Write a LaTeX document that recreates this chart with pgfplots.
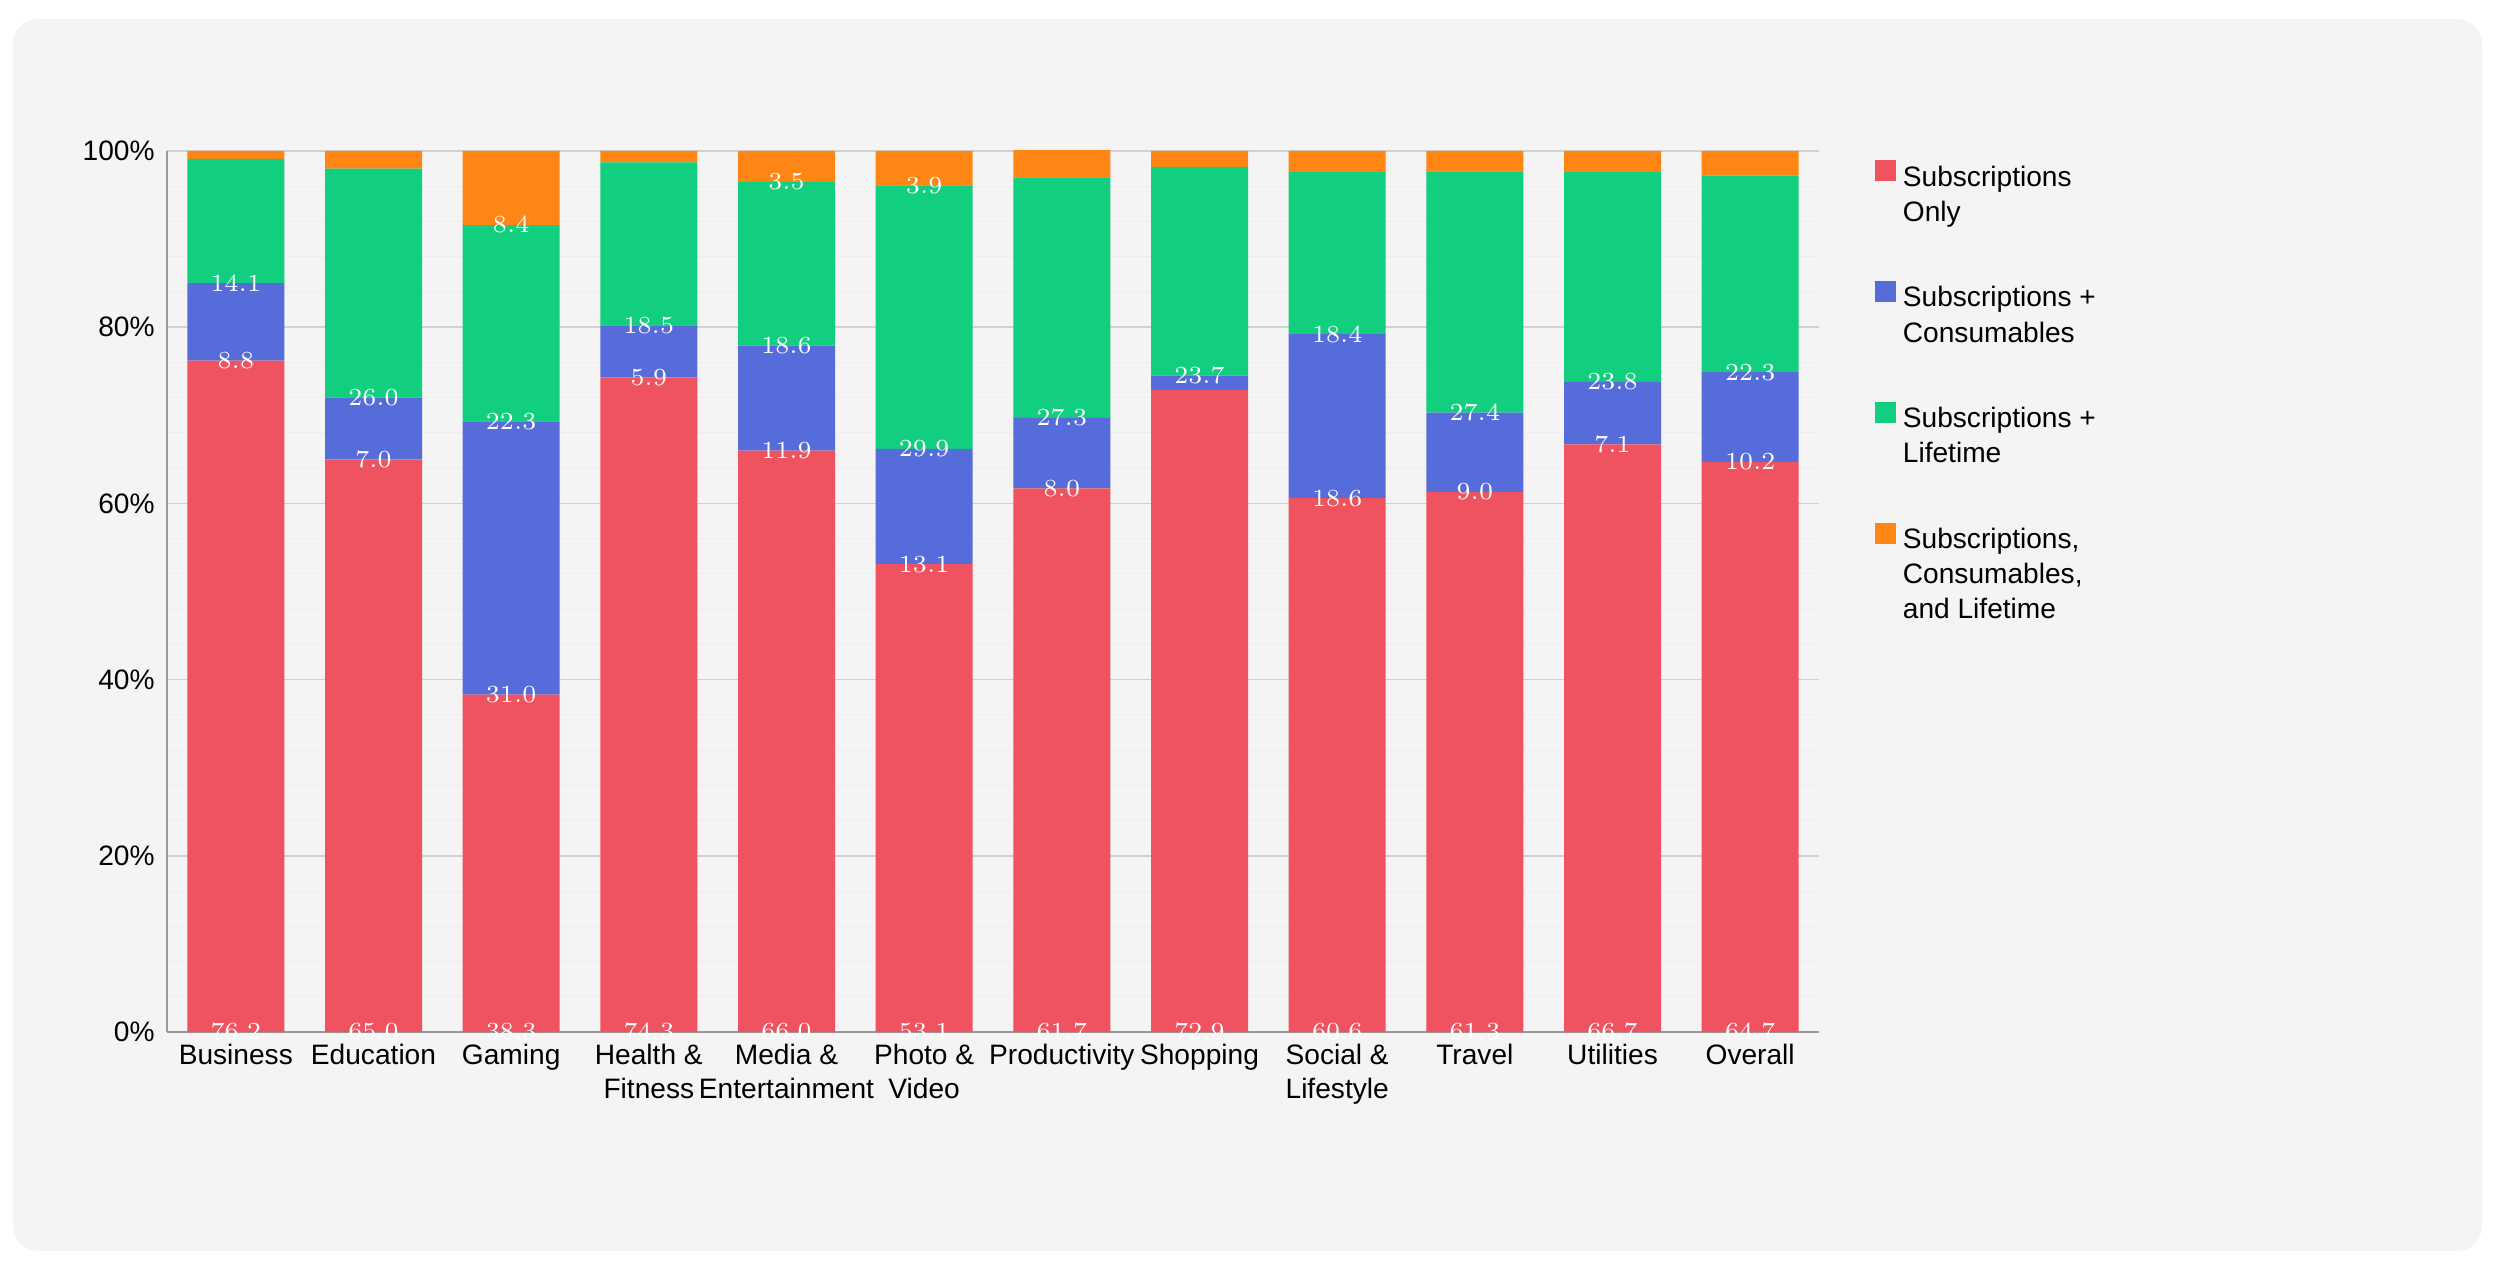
\documentclass[border=0pt]{standalone}
\usepackage{pgfplots}
\pgfplotsset{compat=1.18}
\usepackage{pgfplotstable}
\usepackage{fontspec}
\setmainfont{Liberation Sans}
\definecolor{cRed}{HTML}{EF5360}
\definecolor{cBlue}{HTML}{566CDB}
\definecolor{cGreen}{HTML}{12CF80}
\definecolor{cOrange}{HTML}{FF8514}
\definecolor{panel}{HTML}{F4F4F4}
\pgfplotstableread{
x v
0 76.2
1 65.0
2 38.3
3 74.3
4 66.0
5 53.1
6 61.7
7 72.9
8 60.6
9 61.3
10 66.7
11 64.7
}\tA
\pgfplotstableread{
x v
0 8.8
1 7.0
2 31.0
3 5.9
4 11.9
5 13.1
6 8.0
7 1.6
8 18.6
9 9.0
10 7.1
11 10.2
}\tB
\pgfplotstableread{
x v
0 14.1
1 26.0
2 22.3
3 18.5
4 18.6
5 29.9
6 27.3
7 23.7
8 18.4
9 27.4
10 23.8
11 22.3
}\tC
\pgfplotstableread{
x v
0 0.9
1 2.0
2 8.4
3 1.3
4 3.5
5 3.9
6 3.1
7 1.8
8 2.4
9 2.3
10 2.4
11 2.8
}\tD
\newcommand\vlabel{\pgfmathparse{\val<2.95?0:1}\ifnum\pgfmathresult>0 \pgfmathprintnumber[fixed,fixed zerofill,precision=1]{\val}\fi}
\begin{document}
\begin{tikzpicture}
\fill[white] (0,0) rectangle (249.8mm,127.8mm);
\fill[panel,rounded corners=2.5mm] (1.3mm,2.7mm) rectangle (248.2mm,125.9mm);
\begin{axis}[
  at={(16.7mm,24.6mm)}, anchor=south west,
  scale only axis, width=165.2mm, height=88.1mm,
  ybar stacked, bar width=9.7mm,
  xmin=-0.5, xmax=11.5, ymin=0, ymax=100,
  xtick={0,...,11},
  xticklabels={Business,Education,Gaming,Health \&\\Fitness,Media \&\\Entertainment,Photo \&\\Video,Productivity,Shopping,Social \&\\Lifestyle,Travel,Utilities,Overall},
  xticklabel style={align=center, font=\fontsize{8}{9.5}\selectfont},
  ytick={0,20,40,60,80,100},
  yticklabels={0\%,20\%,40\%,60\%,80\%,100\%},
  yticklabel style={font=\fontsize{8}{9.5}\selectfont},
  minor ytick={4,8,...,96},
  ymajorgrids, yminorgrids,
  major grid style={draw=black!18, line width=0.4pt},
  minor grid style={draw=black!7, line width=0.3pt},
  axis x line*=bottom, axis y line*=left,
  axis line style={draw=black!40, line width=0.5pt},
  major tick length=0pt, minor tick length=0pt,
  tick style={draw=none},
  axis background/.style={fill=panel},
  visualization depends on={\thisrow{v}\as\val},
  nodes near coords={\vlabel},
  every node near coord/.style={anchor=center, text=white, font=\fontsize{7}{8}\selectfont, shift={(axis direction cs:0,-\val/2)}},
  legend style={at={(1.027,1)}, anchor=north west, draw=none, fill=none,
    font=\fontsize{8}{10}\selectfont, row sep=4.6mm,
    nodes={align=left, anchor=west}},
  legend cell align=left,
]
\addplot[fill=cRed, draw=none, legend image code/.code={\fill[cRed] (0,1.5mm) rectangle (2.1mm,3.6mm);}] table[x=x,y=v] {\tA};
\addplot[fill=cBlue, draw=none, legend image code/.code={\fill[cBlue] (0,1.5mm) rectangle (2.1mm,3.6mm);}] table[x=x,y=v] {\tB};
\addplot[fill=cGreen, draw=none, legend image code/.code={\fill[cGreen] (0,1.5mm) rectangle (2.1mm,3.6mm);}] table[x=x,y=v] {\tC};
\addplot[fill=cOrange, draw=none, legend image code/.code={\fill[cOrange] (0,3.2mm) rectangle (2.1mm,5.3mm);}] table[x=x,y=v] {\tD};
\legend{Subscriptions\\Only, Subscriptions +\\Consumables, Subscriptions +\\Lifetime, {Subscriptions,\\Consumables,\\and Lifetime}}
\end{axis}
\end{tikzpicture}
\end{document}
